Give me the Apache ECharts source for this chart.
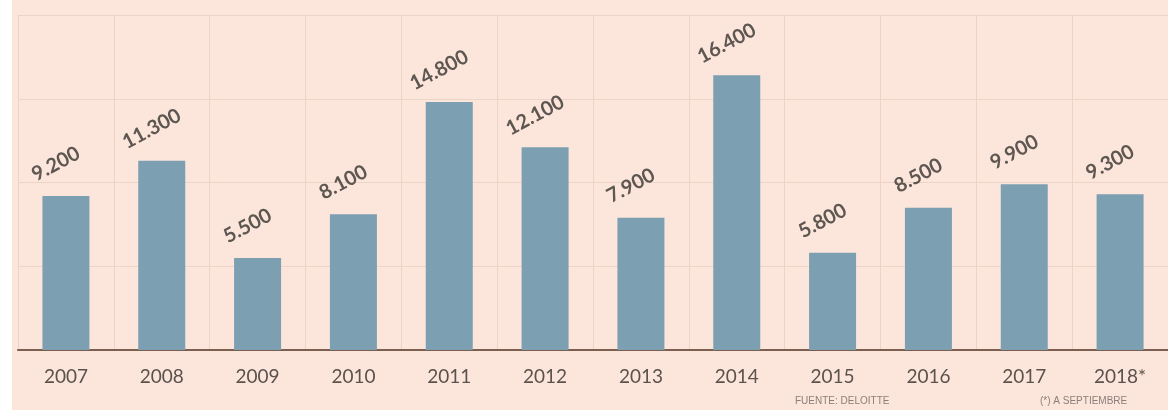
<!DOCTYPE html>
<html>
<head>
<meta charset="utf-8">
<script src="https://cdn.jsdelivr.net/npm/echarts@6/dist/echarts.min.js"></script>
<style>
html,body{margin:0;padding:0;background:#fce6dc;}
#chart{width:1168px;height:410px;}
</style>
</head>
<body>
<div id="chart"></div>
<script>
const categories = ['2007','2008','2009','2010','2011','2012','2013','2014','2015','2016','2017','2018*'];
const values = [9200, 11300, 5500, 8100, 14800, 12100, 7900, 16400, 5800, 8500, 9900, 9300];
const sourceText = 'FUENTE: DELOITTE';
const noteText = '(*) A SEPTIEMBRE';

const fmt = v => String(v).replace(/\B(?=(\d{3})+(?!\d))/g, '.');

const chart = echarts.init(document.getElementById('chart'));
chart.setOption({
  backgroundColor: '#fce6dc',
  animation: false,
  grid: {left: 18, top: 15, width: 1152, bottom: 60},
  xAxis: {
    type: 'category',
    data: categories,
    axisTick: {show: false},
    axisLine: {lineStyle: {color: '#7d5f50', width: 2}},
    axisLabel: {fontFamily: 'Lato', fontSize: 19, color: '#5a524c', margin: 17},
    splitLine: {show: true, lineStyle: {color: '#ecd2c7', width: 1}}
  },
  yAxis: {
    type: 'value', min: 0, max: 20000, interval: 5000,
    axisLabel: {show: false}, axisLine: {show: false}, axisTick: {show: false},
    splitLine: {lineStyle: {color: '#ecd4c9', width: 1}}
  },
  series: [{
    type: 'bar',
    data: values,
    barWidth: 47,
    itemStyle: {color: '#7c9fb1'},
    label: {
      show: true, position: 'top', rotate: 28, distance: 26, offset: [-6, 0],
      formatter: p => fmt(p.value),
      fontFamily: 'Lato', fontWeight: 'bold', fontSize: 20, color: '#5e5650'
    }
  }],
  graphic: [
    {type: 'rect', left: 0, top: 0, shape: {width: 12, height: 410}, style: {fill: '#ffffff'}, z: 10},
    {type: 'text', left: 795, top: 396, style: {text: sourceText, font: '10px "Liberation Sans Narrow", "Liberation Sans"', fill: '#8c7e78'}},
    {type: 'text', left: 1040, top: 396, style: {text: noteText, font: '10px "Liberation Sans Narrow", "Liberation Sans"', fill: '#8c7e78'}}
  ]
});
</script>
</body>
</html>
